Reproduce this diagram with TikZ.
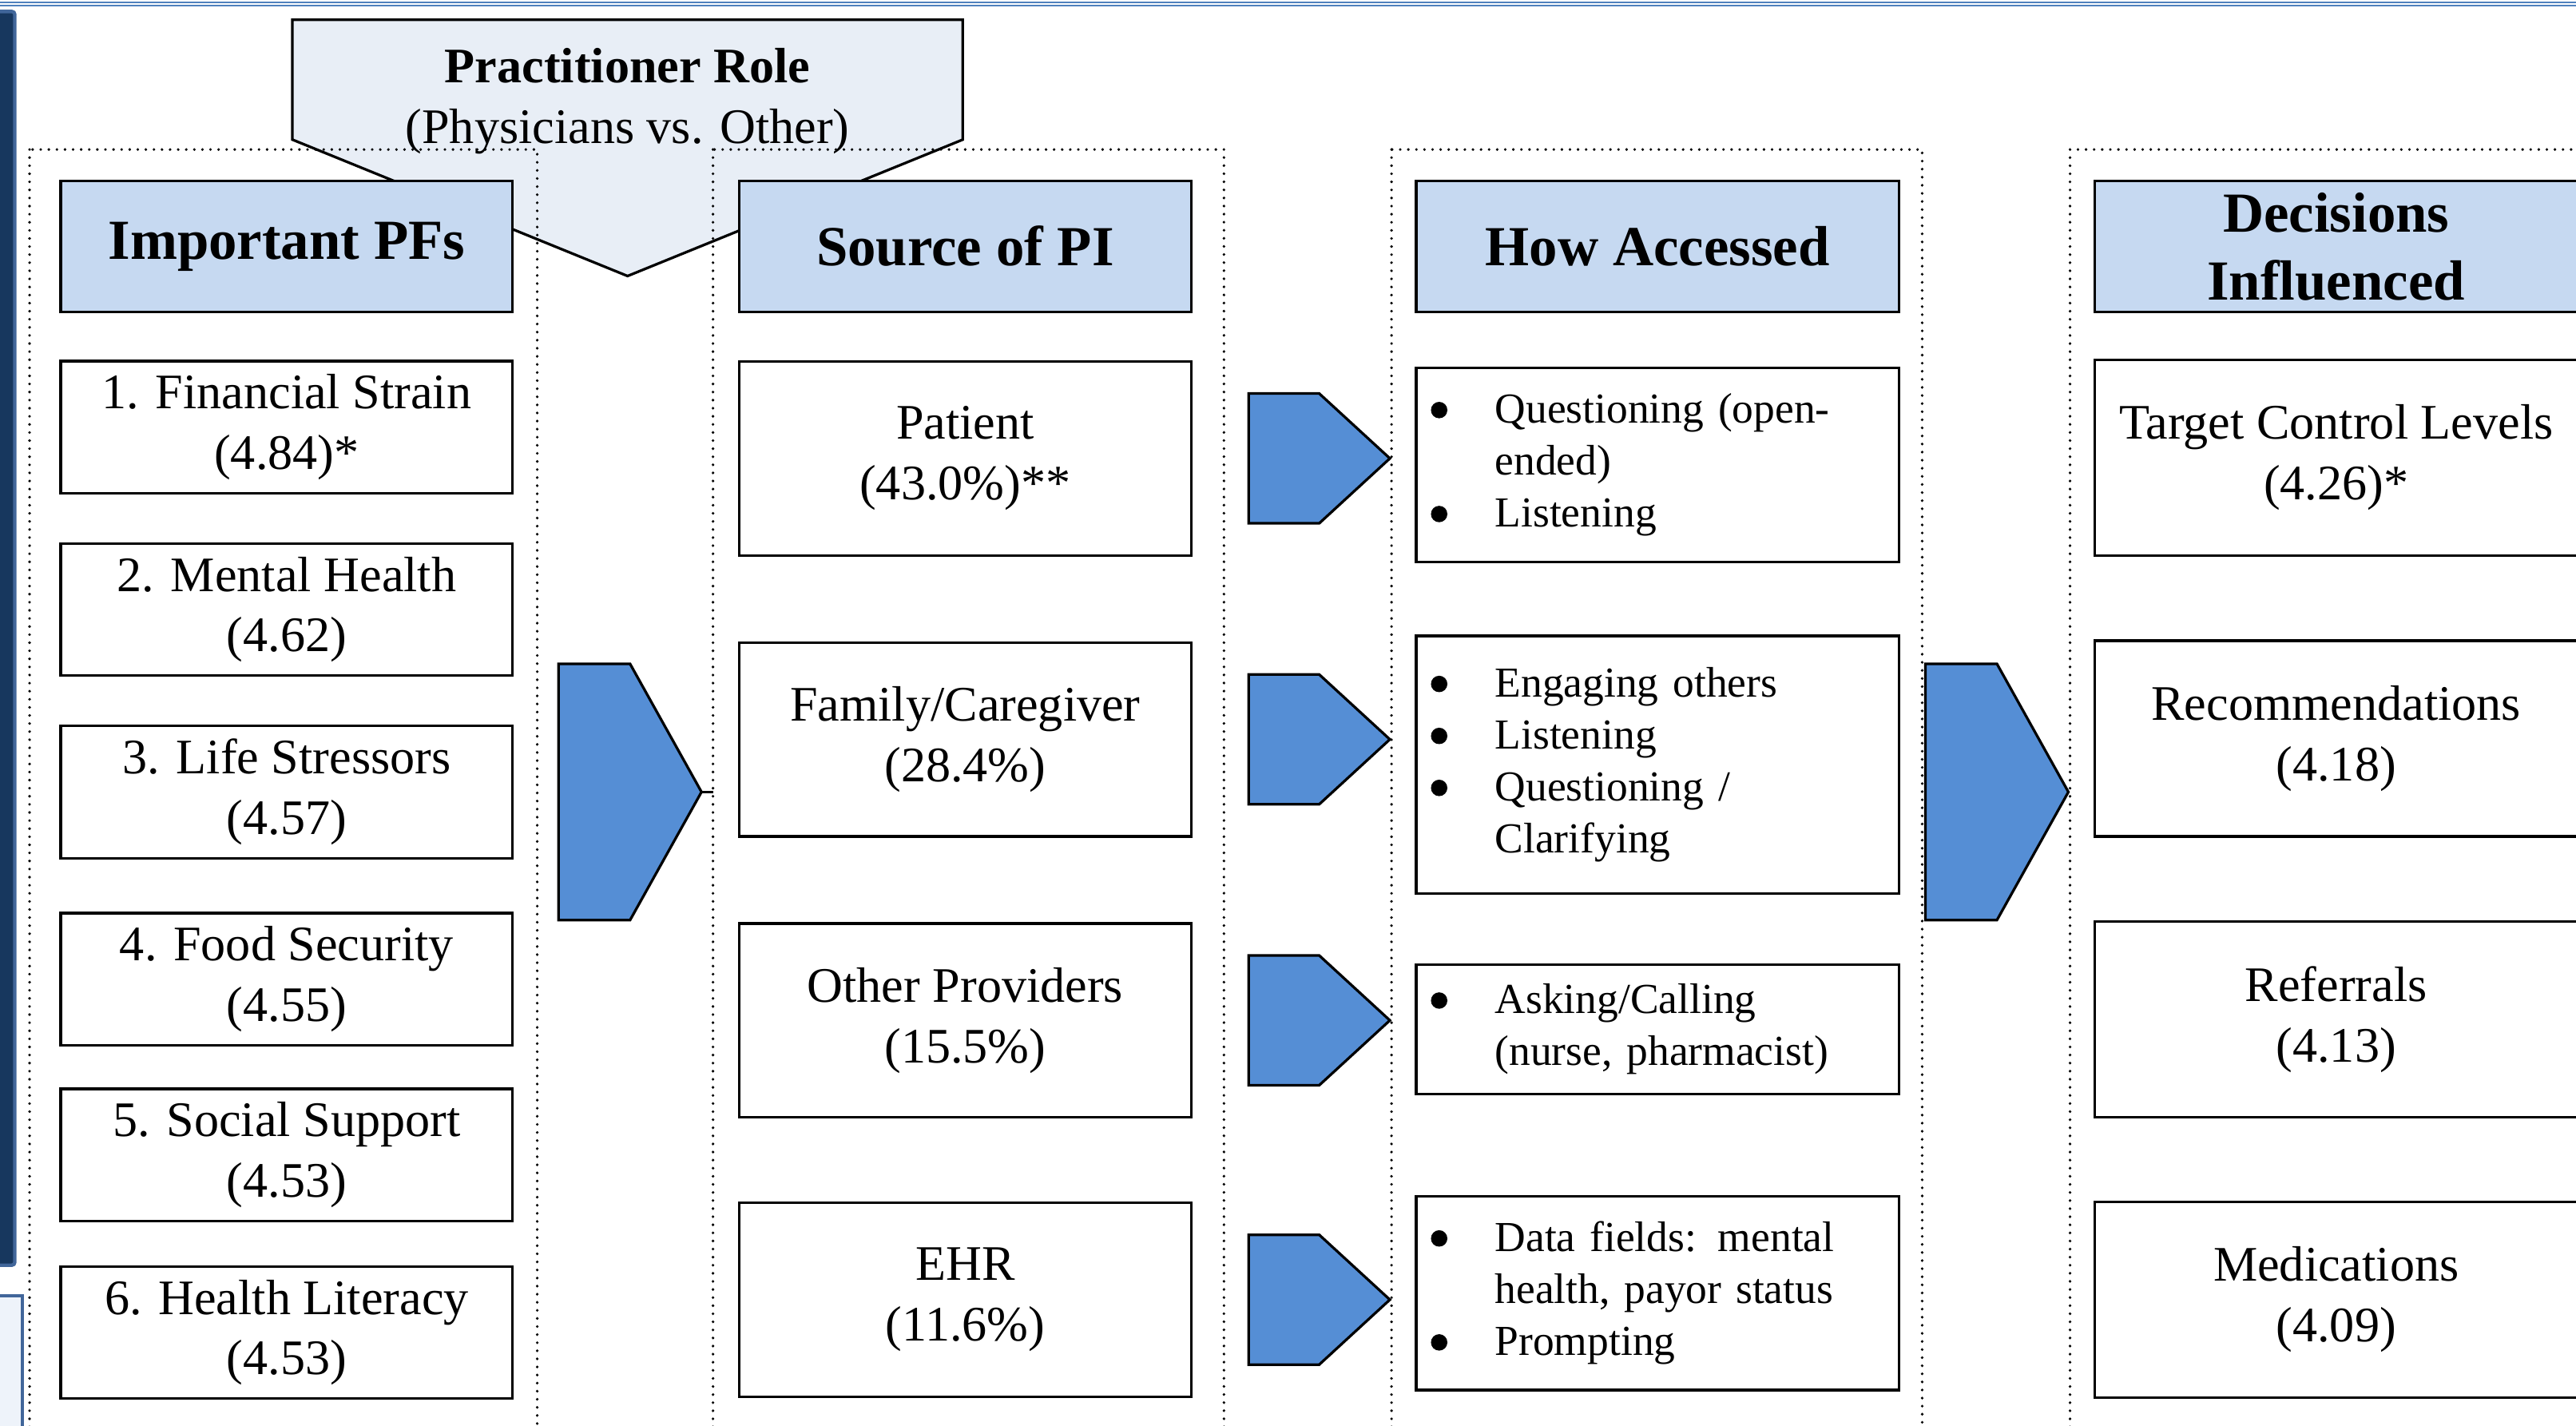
\documentclass[tikz,border=0pt]{standalone}
\usepackage{fontspec}
\setmainfont{Liberation Serif}
\usepackage{xcolor}
\usepackage{tikz}
\usetikzlibrary{calc}
\definecolor{hdrblue}{HTML}{C6D9F1}
\definecolor{arrowblue}{HTML}{558ED5}
\definecolor{rolefill}{HTML}{E8EEF6}
\definecolor{navybar}{HTML}{17375E}
\definecolor{edgeblue}{HTML}{41669A}
\definecolor{paleblue}{HTML}{EEF3FA}
\definecolor{ruleblue}{HTML}{4F81BD}
\newcommand{\accbullet}{\makebox[0.78cm][l]{\tikz[baseline=-0.16cm]\fill (0,0) circle (0.1cm);}}
\newcommand{\accindent}{\hspace*{0.78cm}}

\begin{document}
\begin{tikzpicture}[x=1cm, y=1cm,
  hdr/.style={draw, line width=0.9pt, fill=hdrblue, minimum height=1.6cm, inner sep=0pt,
    align=center, font=\fontsize{19.6}{23.5}\selectfont\bfseries},
  itembox/.style={draw, line width=0.9pt, fill=white, minimum width=5.5cm, inner sep=0pt,
    align=center, font=\fontsize{17.2}{21}\selectfont},
  listbox/.style={draw, line width=0.9pt, fill=white, text width=5.52cm, inner xsep=0.18cm,
    inner ysep=0pt, align=left, font=\fontsize{14.8}{18}\selectfont},
  flowarrow/.style={draw, fill=arrowblue, line width=0.9pt, line join=miter},
  colframe/.style={line width=1pt, line cap=round, dash pattern=on 0pt off 2.8pt}]
\useasboundingbox (0,0) rectangle (31.36,17.35);

% edge of the page around the figure
\draw[ruleblue, line width=0.5pt] (0,17.32) -- (31.36,17.32);
\draw[ruleblue, line width=0.5pt] (0,17.28) -- (31.36,17.28);
\draw[fill=navybar, draw=edgeblue, line width=1.2pt, rounded corners=1pt] (-0.3,17.21) rectangle (0.18,1.95);
\draw[fill=paleblue, draw=edgeblue, line width=1.2pt] (-0.3,1.58) rectangle (0.27,-0.5);

% practitioner role banner
\draw[fill=rolefill, line width=0.9pt] (3.56,17.11) -- (11.72,17.11) -- (11.72,15.65)
  -- (7.64,13.99) -- (3.56,15.65) -- cycle;
\node[font=\fontsize{17.2}{21}\selectfont, align=center] (role) at (7.64,16.12)
  {\textbf{Practitioner Role}\\(Physicians vs. Other)};

% dotted columns
\draw[colframe] (0.36,15.53) rectangle (6.54,-0.5);
\draw[colframe] (8.68,15.53) rectangle (14.90,-0.5);
\draw[colframe] (16.94,15.53) rectangle (23.40,-0.5);
\draw[colframe] (25.20,15.53) rectangle (32.00,-0.5);

% headers
\node[hdr, minimum width=5.5cm] (hdrPF) at (3.49,14.35) {Important PFs};
\node[hdr, minimum width=5.5cm] (hdrSrc) at (11.75,14.35) {Source of PI};
\node[hdr, minimum width=5.88cm] (hdrAcc) at (20.18,14.35) {How Accessed};
\node[hdr, minimum width=5.88cm] (hdrDec) at (28.44,14.35) {Decisions\\Influenced};

% important PFs
\node[itembox, minimum height=1.61cm] (pf1) at (3.49,12.15) {1. Financial Strain\\(4.84)*};
\node[itembox, minimum height=1.61cm] (pf2) at (3.49,9.93) {2. Mental Health\\(4.62)};
\node[itembox, minimum height=1.61cm] (pf3) at (3.49,7.71) {3. Life Stressors\\(4.57)};
\node[itembox, minimum height=1.61cm] (pf4) at (3.49,5.43) {4. Food Security\\(4.55)};
\node[itembox, minimum height=1.61cm] (pf5) at (3.49,3.29) {5. Social Support\\(4.53)};
\node[itembox, minimum height=1.61cm] (pf6) at (3.49,1.13) {6. Health Literacy\\(4.53)};

% source of PI
\node[itembox, minimum height=2.36cm] (src1) at (11.75,11.77) {Patient\\(43.0\%)**};
\node[itembox, minimum height=2.36cm] (src2) at (11.75,8.35) {Family/Caregiver\\(28.4\%)};
\node[itembox, minimum height=2.36cm] (src3) at (11.75,4.93) {Other Providers\\(15.5\%)};
\node[itembox, minimum height=2.36cm] (src4) at (11.75,1.53) {EHR\\(11.6\%)};

% how accessed
\node[listbox, minimum height=2.36cm] (acc1) at (20.18,11.69)
  {\accbullet Questioning (open-\\\accindent ended)\\\accbullet Listening};
\node[listbox, minimum height=3.14cm] (acc2) at (20.18,8.04)
  {\accbullet Engaging others\\\accbullet Listening\\\accbullet Questioning /\\\accindent Clarifying};
\node[listbox, minimum height=1.58cm] (acc3) at (20.18,4.82)
  {\accbullet Asking/Calling\\\accindent (nurse, pharmacist)};
\node[listbox, minimum height=2.36cm] (acc4) at (20.18,1.61)
  {\accbullet Data fields: mental\\\accindent health, payor status\\\accbullet Prompting};

% decisions influenced
\node[itembox, minimum width=5.88cm, minimum height=2.38cm] (dec1) at (28.44,11.78) {Target Control Levels\\(4.26)*};
\node[itembox, minimum width=5.88cm, minimum height=2.38cm] (dec2) at (28.44,8.36) {Recommendations\\(4.18)};
\node[itembox, minimum width=5.88cm, minimum height=2.38cm] (dec3) at (28.44,4.94) {Referrals\\(4.13)};
\node[itembox, minimum width=5.88cm, minimum height=2.38cm] (dec4) at (28.44,1.53) {Medications\\(4.09)};

% big arrows between columns
\foreach \ax in {6.80,23.44}
  \draw[flowarrow] (\ax,9.27) -- ++(0.87,0) -- ++(0.87,-1.56) -- ++(-0.87,-1.56) -- ++(-0.87,0) -- cycle;
\coordinate (tipA) at (8.54,7.71);
\coordinate (frameB) at (8.68,7.71);
\draw[line width=0.9pt] (tipA) -- (frameB);

% one small arrow per source
\foreach \s in {src1,src2,src3,src4}
  \draw[flowarrow] ([xshift=3.45cm]\s.center) ++(0,0.79) -- ++(0.86,0) -- ++(0.86,-0.79)
    -- ++(-0.86,-0.79) -- ++(-0.86,0) -- cycle;
\end{tikzpicture}
\end{document}
